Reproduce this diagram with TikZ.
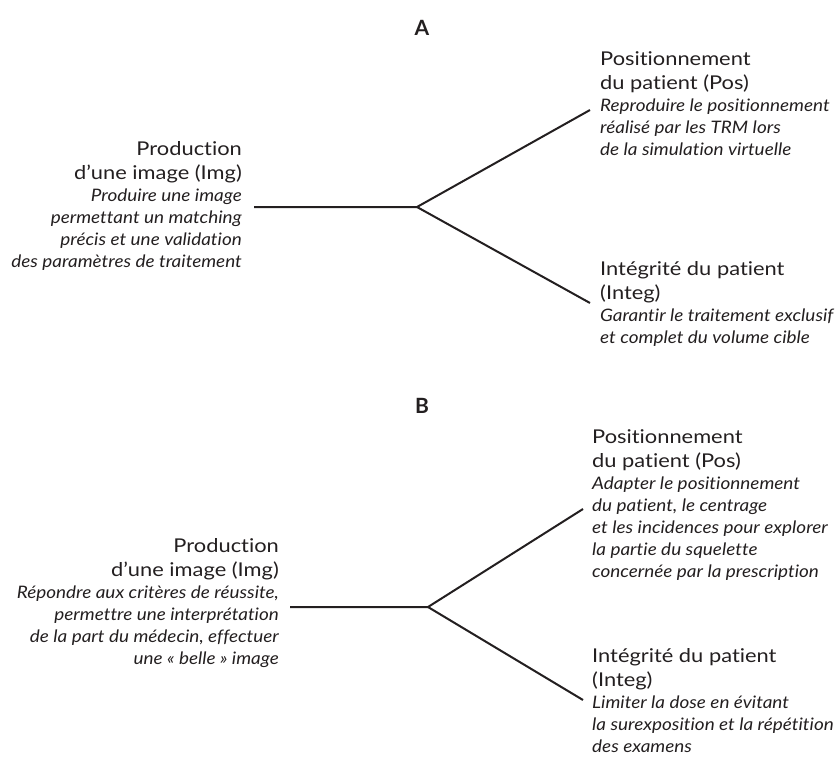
\documentclass[tikz,border=0pt]{standalone}
\usepackage{fontspec}
\setmainfont{Lato}
\newfontfamily\titlefont[FakeStretch=1.15, Ligatures={NoCommon}]{Lato}
\newfontfamily\descfont[FakeStretch=1.10, Ligatures={NoCommon}]{Lato}
\newfontfamily\letterfont{Lato}

% sizes: title lines and italic description lines
\newcommand\tsize{\fontsize{19pt}{24.5pt}\selectfont}
\newcommand\dsize{\fontsize{17.2pt}{22pt}\selectfont}

% one text line of a block, flushed right or left in a fixed-width box
\newlength\blockwd
\setlength\blockwd{300pt}
\newcommand\lineR[1]{\hbox to\blockwd{\hfill#1}}
\newcommand\lineL[1]{\hbox to\blockwd{#1\hfill}}

% a block: title lines (upright) then description lines (italic);
% its baseline is the baseline of its first line
\newcommand\textblock[2]{\vtop{\lineskiplimit=-50pt\lineskip=0pt
  \titlefont\tsize #1\descfont\itshape\dsize #2}}

\definecolor{ink}{HTML}{231F20}

\tikzset{
  lbl/.style={font=\letterfont\bfseries\fontsize{21pt}{24pt}\selectfont, text=ink, inner sep=0},
  blockE/.style={inner sep=0, anchor=base east, text=ink},
  blockW/.style={inner sep=0, anchor=base west, text=ink},
  branch/.style={draw=ink, line width=2pt, line join=miter},
}

\begin{document}
\begin{tikzpicture}[x=1pt, y=-1pt]
\useasboundingbox (0,0) rectangle (840,758);

% ---------- Part A ----------
\node[lbl] (labA) at (422,28) {A};

\coordinate (sA) at (254,207);
\coordinate (jA) at (417,207);
\coordinate (pA) at (590,110);
\coordinate (iA) at (590,303);
\draw[branch] (sA) -- (jA) -- (pA);
\draw[branch] (jA) -- (iA);

\node[blockE] (imgA) at (242,155) {\textblock
  {\lineR{Production}\lineR{d’une image (Img)}}
  {\lineR{Produire une image}\lineR{permettant un matching}%
   \lineR{précis et une validation}\lineR{des paramètres de traitement}}};

\node[blockW] (posA) at (600,65) {\textblock
  {\lineL{Positionnement}\lineL{du patient (Pos)}}
  {\lineL{Reproduire le positionnement}\lineL{réalisé par les TRM lors}%
   \lineL{de la simulation virtuelle}}};

\node[blockW] (intA) at (600,275) {\textblock
  {\lineL{Intégrité du patient}\lineL{(Integ)}}
  {\lineL{Garantir le traitement exclusif}\lineL{et complet du volume cible}}};

% ---------- Part B ----------
\node[lbl] (labB) at (422,406) {B};

\coordinate (sB) at (290,607);
\coordinate (jB) at (428,607);
\coordinate (pB) at (583,509);
\coordinate (iB) at (583,700);
\draw[branch] (sB) -- (jB) -- (pB);
\draw[branch] (jB) -- (iB);

\node[blockE] (imgB) at (279,552) {\textblock
  {\lineR{Production}\lineR{d’une image (Img)}}
  {\lineR{Répondre aux critères de réussite,}\lineR{permettre une interprétation}%
   \lineR{de la part du médecin, effectuer}\lineR{une « belle » image}}};

\node[blockW] (posB) at (592,443) {\textblock
  {\lineL{Positionnement}\lineL{du patient (Pos)}}
  {\lineL{Adapter le positionnement}\lineL{du patient, le centrage}%
   \lineL{et les incidences pour explorer}\lineL{la partie du squelette}%
   \lineL{concernée par la prescription}}};

\node[blockW] (intB) at (592,662) {\textblock
  {\lineL{Intégrité du patient}\lineL{(Integ)}}
  {\lineL{Limiter la dose en évitant}\lineL{la surexposition et la répétition}%
   \lineL{des examens}}};
\end{tikzpicture}
\end{document}
